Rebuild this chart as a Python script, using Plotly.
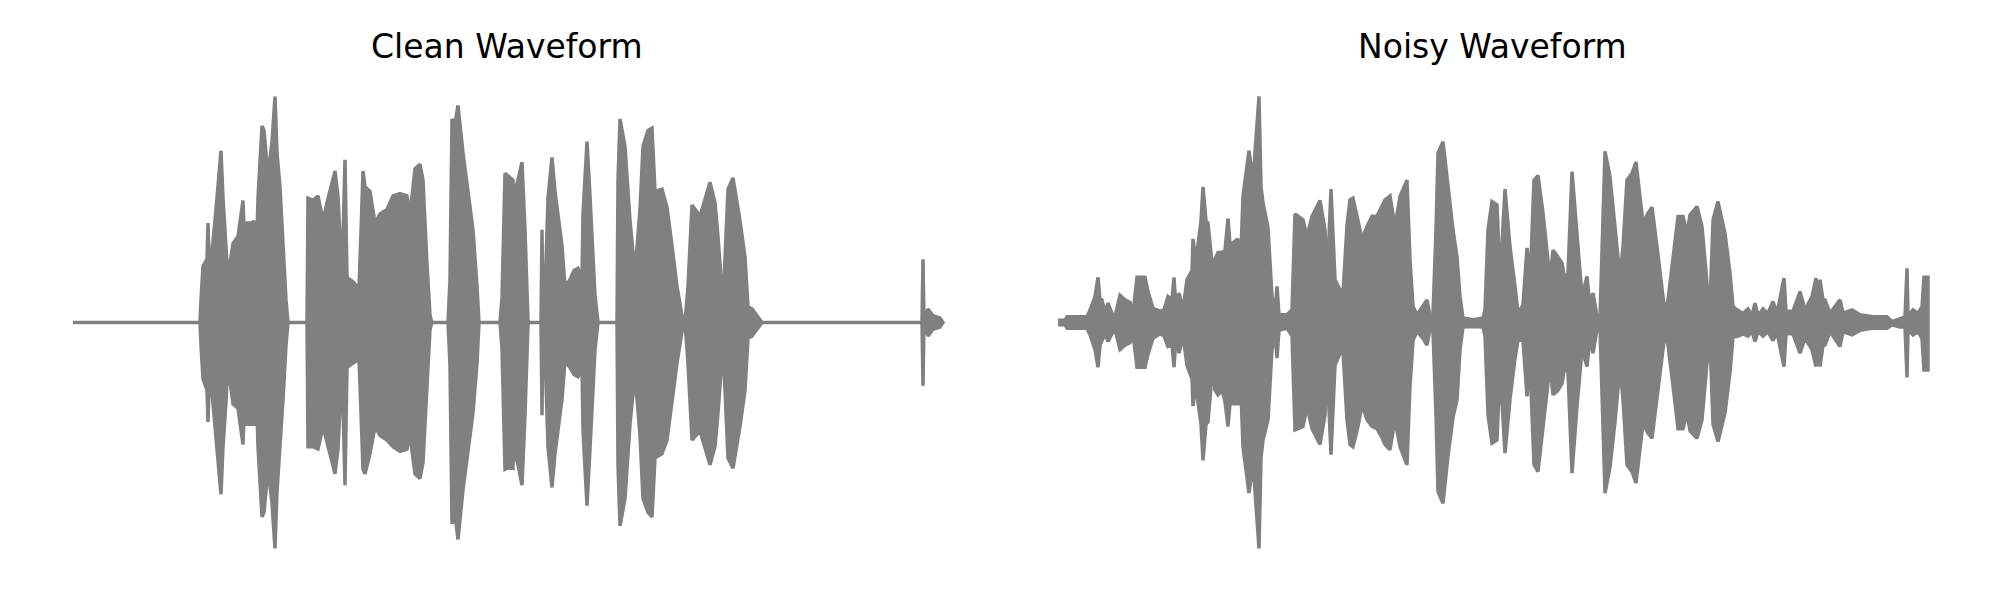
import plotly.graph_objects as go

# ---- Clean waveform envelope (frame index, upper peak, lower peak; amplitude normalised) ----
clean_frame = [0, 127, 128, 130, 134, 135, 136, 139, 143, 148, 150, 153, 155, 157, 160, 165, 170, 171,
               174, 179, 181, 183, 185, 189, 191, 195, 199, 202, 204, 207, 210, 213, 215, 234, 235, 240,
               245, 250, 254, 262, 265, 269, 272, 274, 280, 286, 288, 290, 292, 297, 302, 307, 314, 320,
               327, 334, 337, 342, 347, 350, 354, 357, 359, 375, 377, 379, 382, 385, 390, 395, 400, 404,
               406, 427, 429, 432, 437, 440, 442, 443, 445, 449, 452, 455, 456, 468, 469, 470, 472, 475,
               479, 482, 489, 492, 497, 501, 505, 509, 510, 514, 517, 522, 525, 544, 545, 547, 552, 557,
               562, 567, 570, 575, 579, 582, 589, 594, 599, 604, 609, 612, 615, 619, 627, 632, 637, 642,
               645, 650, 655, 660, 667, 672, 675, 679, 684, 689, 849, 850, 851, 855, 860, 867, 870]
clean_top = [0, 0, 0.10, 0.25, 0.28, 0.44, 0.30, 0.31, 0.50, 0.76, 0.55, 0.35, 0.19, 0.26, 0.35, 0.38, 0.54, 0.42,
             0.44, 0.44, 0.45, 0.25, 0.55, 0.87, 0.85, 0.65, 0.80, 1.00, 0.75, 0.60, 0.34, 0.10, 0, 0, 0.55, 0.54,
             0.56, 0.45, 0.53, 0.67, 0.56, 0.19, 0.72, 0.20, 0.18, 0.15, 0.40, 0.67, 0.60, 0.58, 0.44, 0.48, 0.50, 0.56,
             0.57, 0.56, 0.48, 0.68, 0.70, 0.63, 0.26, 0.03, 0, 0, 0.19, 0.90, 0.88, 0.96, 0.75, 0.59, 0.41, 0.16,
             0, 0, 0.11, 0.66, 0.64, 0.63, 0.20, 0.60, 0.63, 0.71, 0.41, 0.01, 0, 0, 0.41, 0, 0.12, 0.55,
             0.73, 0.58, 0.34, 0.16, 0.19, 0.23, 0.24, 0.19, 0.48, 0.80, 0.56, 0.12, 0, 0, 0.63, 0.90, 0.78, 0.45,
             0.22, 0.50, 0.78, 0.85, 0.86, 0.58, 0.59, 0.51, 0.34, 0.16, 0.03, 0, 0.16, 0.52, 0.47, 0.55, 0.62, 0.53,
             0.38, 0.08, 0.59, 0.64, 0.45, 0.29, 0.07, 0.06, 0.03, 0, 0, 0.28, 0, 0.06, 0.03, 0.02, 0]
clean_bot = [0, 0, -0.10, -0.25, -0.30, -0.44, -0.30, -0.31, -0.50, -0.76, -0.55, -0.35, -0.18, -0.26, -0.36, -0.38, -0.54, -0.42,
             -0.45, -0.45, -0.45, -0.25, -0.55, -0.86, -0.84, -0.65, -0.80, -1.00, -0.75, -0.58, -0.34, -0.10, 0, 0, -0.55, -0.55,
             -0.56, -0.46, -0.53, -0.67, -0.56, -0.19, -0.72, -0.20, -0.18, -0.16, -0.40, -0.65, -0.67, -0.58, -0.46, -0.50, -0.52, -0.55,
             -0.57, -0.56, -0.50, -0.67, -0.69, -0.62, -0.27, -0.03, 0, 0, -0.19, -0.89, -0.85, -0.96, -0.74, -0.58, -0.40, -0.18,
             0, 0, -0.12, -0.65, -0.64, -0.645, -0.20, -0.60, -0.63, -0.72, -0.41, -0.01, 0, 0, -0.41, 0, -0.12, -0.55,
             -0.73, -0.58, -0.34, -0.17, -0.20, -0.23, -0.24, -0.20, -0.48, -0.81, -0.56, -0.12, 0, 0, -0.63, -0.90, -0.78, -0.45,
             -0.23, -0.50, -0.78, -0.84, -0.86, -0.60, -0.58, -0.52, -0.36, -0.18, -0.04, 0, -0.18, -0.52, -0.48, -0.56, -0.63, -0.55,
             -0.40, -0.10, -0.60, -0.645, -0.46, -0.30, -0.07, -0.06, -0.03, 0, 0, -0.28, 0, -0.06, -0.03, -0.02, 0]

# ---- Noisy waveform envelope ----
noisy_frame = [0, 7, 9, 29, 32, 37, 40, 42, 44, 47, 50, 54, 57, 62, 67, 72, 75, 79, 87, 90, 95, 102, 106,
               110, 114, 116, 118, 121, 125, 129, 134, 135, 137, 139, 143, 145, 148, 150, 155, 157, 160, 164,
               167, 170, 172, 174, 180, 182, 185, 191, 195, 201, 203, 205, 210, 214, 217, 219, 221, 229, 234,
               235, 237, 245, 249, 254, 262, 267, 269, 273, 277, 282, 285, 289, 292, 295, 300, 304, 309, 314,
               319, 324, 327, 332, 337, 342, 349, 352, 355, 359, 365, 369, 372, 375, 378, 380, 385, 390, 395,
               399, 402, 405, 415, 425, 427, 430, 434, 439, 442, 447, 452, 457, 460, 465, 469, 472, 476, 480,
               485, 492, 495, 500, 504, 507, 510, 514, 519, 524, 529, 532, 535, 539, 542, 545, 547, 552, 557,
               562, 565, 569, 574, 578, 582, 585, 590, 594, 599, 604, 607, 610, 615, 620, 625, 629, 632, 639,
               644, 649, 652, 655, 660, 667, 672, 675, 679, 685, 690, 694, 697, 700, 705, 710, 715, 719, 726,
               728, 735, 742, 747, 754, 758, 760, 762, 765, 767, 772, 782, 785, 794, 802, 815, 829, 834, 842,
               847, 849, 850, 855, 860, 864, 866, 870]
noisy_top = [0.01, 0.01, 0.025, 0.025, 0.055, 0.115, 0.20, 0.10, 0.10, 0.04, 0.086, 0.04, 0.027, 0.12, 0.10, 0.09, 0.04, 0.20, 0.20, 0.137, 0.063, 0.05, 0.056,
             0.115, 0.10, 0.20, 0.06, 0.13, 0.056, 0.19, 0.23, 0.37, 0.30, 0.31, 0.45, 0.60, 0.45, 0.44, 0.22, 0.28, 0.31, 0.31,
             0.32, 0.46, 0.35, 0.35, 0.37, 0.19, 0.56, 0.76, 0.63, 1.00, 0.60, 0.53, 0.42, 0.115, 0.04, 0.16, 0.035, 0.034, 0.056,
             0.19, 0.48, 0.454, 0.38, 0.47, 0.54, 0.41, 0.17, 0.59, 0.19, 0.145, 0.13, 0.43, 0.543, 0.55, 0.454, 0.37, 0.425, 0.47,
             0.47, 0.513, 0.543, 0.56, 0.425, 0.557, 0.63, 0.277, 0.071, 0.034, 0.071, 0.10, 0.027, 0.041, 0.41, 0.75, 0.80, 0.587, 0.41,
             0.29, 0.115, 0.02, 0.012, 0.02, 0.056, 0.41, 0.535, 0.52, 0.19, 0.59, 0.336, 0.16, 0.04, 0.078, 0.33, 0.174, 0.63, 0.65,
             0.484, 0.189, 0.32, 0.29, 0.263, 0.189, 0.218, 0.668, 0.366, 0.115, 0.204, 0.071, 0.13, 0.027, 0.02, 0.48, 0.757, 0.646, 0.44,
             0.20, 0.336, 0.63, 0.66, 0.71, 0.557, 0.44, 0.484, 0.51, 0.336, 0.16, 0.041, 0.10, 0.277, 0.469, 0.469, 0.395, 0.476, 0.513,
             0.425, 0.174, 0.071, 0.454, 0.535, 0.395, 0.218, 0.071, 0.056, 0.04, 0.06, 0.03, 0.086, 0.03, 0.06, 0.04, 0.093, 0.04, 0.196,
             0.05, 0.05, 0.137, 0.056, 0.115, 0.196, 0.10, 0.189, 0.10, 0.10, 0.041, 0.10, 0.041, 0.056, 0.034, 0.025, 0.025, 0.004, 0.019,
             0.025, 0.24, 0.027, 0.056, 0.041, 0.07, 0.20, 0.20]
noisy_bot = [-0.01, -0.01, -0.025, -0.025, -0.055, -0.12, -0.198, -0.10, -0.08, -0.05, -0.084, -0.05, -0.03, -0.12, -0.10, -0.09, -0.05, -0.198, -0.198, -0.14, -0.07, -0.05, -0.06,
             -0.106, -0.10, -0.198, -0.06, -0.136, -0.06, -0.19, -0.25, -0.37, -0.30, -0.32, -0.45, -0.61, -0.45, -0.44, -0.18, -0.30, -0.32, -0.30,
             -0.35, -0.46, -0.36, -0.36, -0.36, -0.19, -0.55, -0.755, -0.62, -1.00, -0.60, -0.52, -0.43, -0.12, -0.04, -0.158, -0.035, -0.025, -0.06,
             -0.19, -0.475, -0.46, -0.372, -0.47, -0.54, -0.41, -0.18, -0.585, -0.19, -0.136, -0.13, -0.43, -0.54, -0.55, -0.46, -0.364, -0.43, -0.46,
             -0.47, -0.51, -0.54, -0.563, -0.43, -0.55, -0.63, -0.28, -0.08, -0.04, -0.07, -0.10, -0.03, -0.04, -0.41, -0.748, -0.80, -0.59, -0.42,
             -0.342, -0.12, -0.02, -0.018, -0.02, -0.06, -0.41, -0.534, -0.52, -0.20, -0.578, -0.34, -0.16, -0.077, -0.08, -0.327, -0.18, -0.63, -0.66,
             -0.48, -0.19, -0.32, -0.30, -0.27, -0.19, -0.22, -0.667, -0.37, -0.12, -0.195, -0.07, -0.136, -0.03, -0.02, -0.48, -0.755, -0.64, -0.44,
             -0.195, -0.34, -0.63, -0.66, -0.71, -0.56, -0.445, -0.49, -0.512, -0.34, -0.16, -0.047, -0.10, -0.28, -0.47, -0.47, -0.40, -0.48, -0.512,
             -0.43, -0.18, -0.07, -0.45, -0.527, -0.40, -0.22, -0.062, -0.062, -0.05, -0.06, -0.04, -0.084, -0.04, -0.06, -0.04, -0.08, -0.045, -0.195,
             -0.05, -0.05, -0.136, -0.07, -0.12, -0.195, -0.10, -0.195, -0.10, -0.10, -0.04, -0.106, -0.04, -0.055, -0.035, -0.025, -0.025, -0.01, -0.02,
             -0.02, -0.243, -0.03, -0.055, -0.04, -0.07, -0.21, -0.21]

titles = ["Clean Waveform", "Noisy Waveform"]
wave_color = "#808080"


def envelope_trace(frames, top, bot, xa, ya):
    xs = list(frames) + list(reversed(frames))
    ys = list(top) + list(reversed(bot))
    return go.Scatter(x=xs, y=ys, mode="lines", fill="toself", fillcolor=wave_color,
                      line=dict(color=wave_color, width=3.5), xaxis=xa, yaxis=ya,
                      hoverinfo="skip", showlegend=False)


fig = go.Figure()
fig.add_trace(envelope_trace(clean_frame, clean_top, clean_bot, "x", "y"))
fig.add_trace(envelope_trace(noisy_frame, noisy_top, noisy_bot, "x2", "y2"))

yr = [-1.228, 1.427]
title_font = dict(family="DejaVu Sans", size=33, color="black")
fig.update_layout(
    width=2000, height=600,
    margin=dict(l=0, r=0, t=0, b=0),
    paper_bgcolor="white", plot_bgcolor="white",
    showlegend=False,
    hovermode=False,
    xaxis=dict(domain=[0, 0.5], range=[-73, 927], visible=False),
    yaxis=dict(domain=[0, 1], range=yr, visible=False),
    xaxis2=dict(domain=[0.5, 1], range=[-58, 942], visible=False),
    yaxis2=dict(domain=[0, 1], range=yr, visible=False, anchor="x2"),
    annotations=[
        dict(text=titles[0], x=0.2535, y=0.9233, xref="paper", yref="paper",
             xanchor="center", yanchor="middle", showarrow=False, font=title_font),
        dict(text=titles[1], x=0.746, y=0.9233, xref="paper", yref="paper",
             xanchor="center", yanchor="middle", showarrow=False, font=title_font),
    ],
)
fig.write_html("out.html", config={"displayModeBar": False, "staticPlot": True},
               post_script="document.body.style.margin='0';document.body.style.overflow='hidden';")
